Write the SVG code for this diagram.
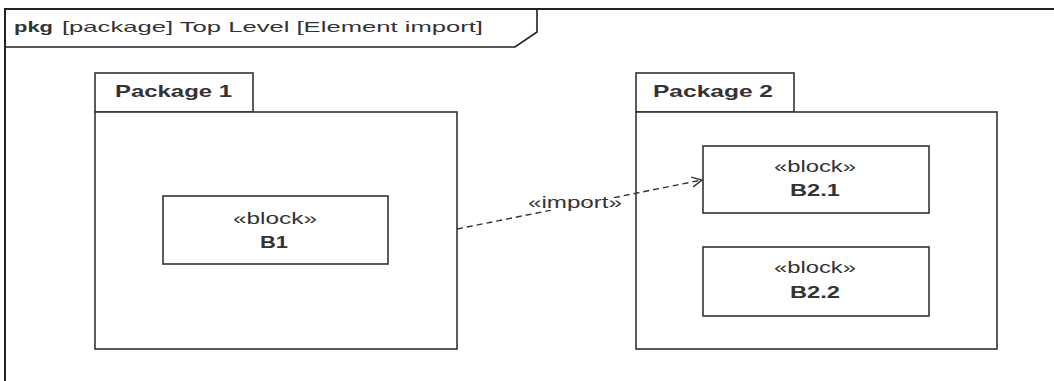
<svg xmlns="http://www.w3.org/2000/svg" width="1054" height="381" viewBox="0 0 1054 381">
<style>
.ln{fill:#fff;stroke:#333;stroke-width:1.6}
.t{font-family:"Liberation Sans",Arial,sans-serif;fill:#333}
.b{font-weight:bold}
.c{text-anchor:middle}
</style>
<defs>
<marker id="open" viewBox="0 0 12 12" refX="11" refY="6" markerWidth="12" markerHeight="12" markerUnits="userSpaceOnUse" orient="auto">
<path d="M1,1 L11,6 L1,11" fill="none" stroke="#333" stroke-width="1.4"/>
</marker>
</defs>
<rect width="1054" height="381" fill="#fff"/>
<g id="frame">
<rect x="5" y="9" width="1060" height="390" fill="none" stroke="#222" stroke-width="2"/>
<path d="M5,47 L515,47 L537,32 L537,9" fill="none" stroke="#222" stroke-width="1.6"/>
<text class="t b" x="14" y="32" font-size="15" textLength="39" lengthAdjust="spacingAndGlyphs">pkg</text>
<text class="t" x="62" y="32" font-size="15" textLength="421" lengthAdjust="spacingAndGlyphs">[package] Top Level [Element import]</text>
</g>
<g id="package1">
<rect class="ln" x="95" y="73" width="158" height="39"/>
<rect class="ln" x="95" y="112" width="362" height="237"/>
<text class="t b" x="115" y="97" font-size="17" textLength="117" lengthAdjust="spacingAndGlyphs">Package 1</text>
</g>
<g id="B1">
<rect class="ln" x="163" y="196" width="225" height="68"/>
<text class="t c" x="275" y="224" font-size="16" textLength="84" lengthAdjust="spacingAndGlyphs">«block»</text>
<text class="t b c" x="274" y="248" font-size="16" textLength="28" lengthAdjust="spacingAndGlyphs">B1</text>
</g>
<g id="package2">
<rect class="ln" x="636" y="73" width="158" height="39"/>
<rect class="ln" x="636" y="112" width="361" height="237"/>
<text class="t b" x="653" y="97" font-size="17" textLength="120" lengthAdjust="spacingAndGlyphs">Package 2</text>
</g>
<g id="B2_1">
<rect class="ln" x="703" y="146" width="226" height="67"/>
<text class="t c" x="815" y="172" font-size="16" textLength="82" lengthAdjust="spacingAndGlyphs">«block»</text>
<text class="t b c" x="815" y="196" font-size="16" textLength="50" lengthAdjust="spacingAndGlyphs">B2.1</text>
</g>
<g id="B2_2">
<rect class="ln" x="703" y="247" width="226" height="69"/>
<text class="t c" x="815" y="273" font-size="16" textLength="82" lengthAdjust="spacingAndGlyphs">«block»</text>
<text class="t b c" x="815" y="298" font-size="16" textLength="50" lengthAdjust="spacingAndGlyphs">B2.2</text>
</g>
<g id="connectors">
<line x1="457" y1="229" x2="702" y2="180" stroke="#333" stroke-width="1.4" stroke-dasharray="6,4" marker-end="url(#open)"/>
<text class="t" x="528" y="208" font-size="16" textLength="94" lengthAdjust="spacingAndGlyphs" stroke="#fff" stroke-width="4" paint-order="stroke">«import»</text>
</g>
</svg>
